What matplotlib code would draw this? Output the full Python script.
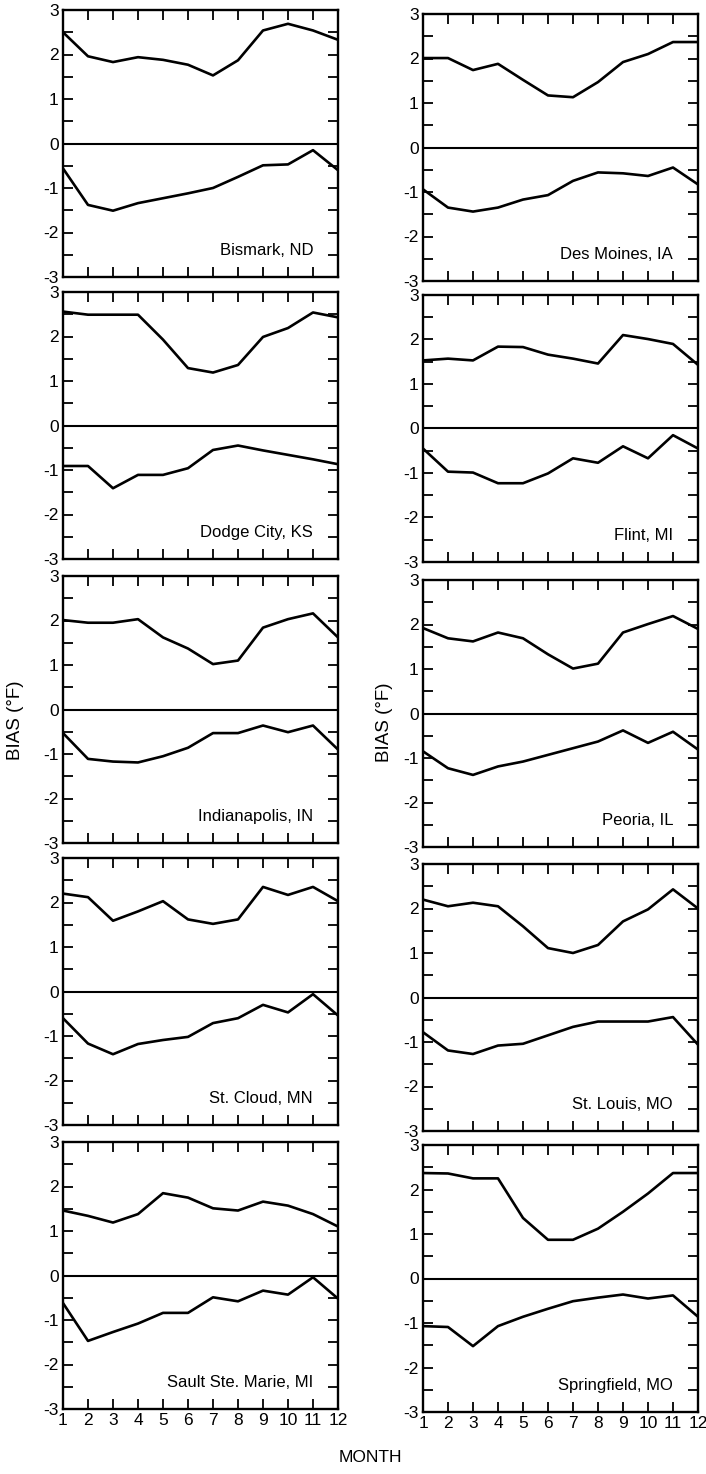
import matplotlib
matplotlib.use("Agg")
from matplotlib import pyplot as plt
from matplotlib.ticker import MultipleLocator

plt.rcParams['font.family'] = ['Liberation Sans', 'DejaVu Sans']
plt.rcParams['axes.unicode_minus'] = False

months = list(range(1, 13))

# station names, left column then right column (top to bottom)
left_names = ["Bismark, ND", "Dodge City, KS", "Indianapolis, IN",
              "St. Cloud, MN", "Sault Ste. Marie, MI"]
right_names = ["Des Moines, IA", "Flint, MI", "Peoria, IL",
               "St. Louis, MO", "Springfield, MO"]

# positive (upper) bias curves, deg F
bismark_pos = [2.50, 1.96, 1.83, 1.94, 1.88, 1.77, 1.53, 1.87, 2.54, 2.69, 2.54, 2.33]
dodge_pos = [2.56, 2.49, 2.49, 2.49, 1.93, 1.29, 1.19, 1.36, 1.99, 2.19, 2.54, 2.43]
indy_pos = [2.01, 1.95, 1.95, 2.03, 1.62, 1.37, 1.02, 1.10, 1.84, 2.03, 2.16, 1.62]
stcloud_pos = [2.20, 2.12, 1.59, 1.80, 2.03, 1.62, 1.52, 1.62, 2.35, 2.17, 2.35, 2.03]
sault_pos = [1.46, 1.34, 1.19, 1.38, 1.85, 1.75, 1.51, 1.46, 1.66, 1.57, 1.38, 1.10]
desmoines_pos = [2.01, 2.01, 1.74, 1.88, 1.52, 1.17, 1.13, 1.47, 1.92, 2.10, 2.37, 2.37]
flint_pos = [1.53, 1.57, 1.53, 1.84, 1.83, 1.66, 1.57, 1.46, 2.10, 2.01, 1.90, 1.43]
peoria_pos = [1.92, 1.69, 1.62, 1.82, 1.69, 1.33, 1.01, 1.12, 1.82, 2.01, 2.19, 1.90]
stlouis_pos = [2.20, 2.05, 2.13, 2.05, 1.60, 1.11, 1.00, 1.18, 1.71, 1.98, 2.43, 2.00]
springfield_pos = [2.37, 2.36, 2.25, 2.25, 1.36, 0.87, 0.87, 1.12, 1.50, 1.91, 2.37, 2.37]

# negative (lower) bias curves, deg F
bismark_neg = [-0.56, -1.38, -1.51, -1.34, -1.23, -1.12, -1.00, -0.75, -0.49, -0.47, -0.15, -0.60]
dodge_neg = [-0.91, -0.91, -1.41, -1.11, -1.11, -0.96, -0.55, -0.45, -0.56, -0.66, -0.76, -0.87]
indy_neg = [-0.53, -1.11, -1.17, -1.19, -1.05, -0.86, -0.53, -0.53, -0.36, -0.51, -0.36, -0.90]
stcloud_neg = [-0.60, -1.17, -1.41, -1.18, -1.09, -1.02, -0.71, -0.60, -0.30, -0.47, -0.06, -0.54]
sault_neg = [-0.62, -1.47, -1.27, -1.08, -0.84, -0.84, -0.49, -0.58, -0.34, -0.43, -0.04, -0.52]
desmoines_neg = [-0.94, -1.35, -1.44, -1.35, -1.17, -1.07, -0.75, -0.56, -0.58, -0.64, -0.45, -0.83]
flint_neg = [-0.45, -0.97, -0.99, -1.23, -1.23, -1.01, -0.67, -0.77, -0.40, -0.67, -0.15, -0.45]
peoria_neg = [-0.85, -1.23, -1.38, -1.19, -1.08, -0.93, -0.78, -0.63, -0.38, -0.66, -0.41, -0.81]
stlouis_neg = [-0.78, -1.19, -1.27, -1.08, -1.04, -0.85, -0.66, -0.54, -0.54, -0.54, -0.44, -1.06]
springfield_neg = [-1.07, -1.09, -1.52, -1.07, -0.86, -0.68, -0.51, -0.43, -0.36, -0.45, -0.38, -0.86]

left_pos = [bismark_pos, dodge_pos, indy_pos, stcloud_pos, sault_pos]
left_neg = [bismark_neg, dodge_neg, indy_neg, stcloud_neg, sault_neg]
right_pos = [desmoines_pos, flint_pos, peoria_pos, stlouis_pos, springfield_pos]
right_neg = [desmoines_neg, flint_neg, peoria_neg, stlouis_neg, springfield_neg]

W, H = 706, 1474
fig = plt.figure(figsize=(W / 100, H / 100), dpi=100)


def px_axes(x, top, w, h):
    return fig.add_axes([x / W, 1 - (top + h) / H, w / W, h / H])


def panel(ax, pos, neg, name, bottom_row):
    ax.plot(months, pos, color="black", lw=1.9)
    ax.plot(months, neg, color="black", lw=1.9)
    ax.axhline(0, color="black", lw=1.5)
    ax.set_xlim(1, 12)
    ax.set_ylim(-3, 3)
    ax.set_xticks(months)
    ax.yaxis.set_major_locator(MultipleLocator(1))
    ax.yaxis.set_minor_locator(MultipleLocator(0.5))
    ax.tick_params(which="both", direction="in", top=True, right=True,
                   length=7, width=1.3, labelsize=12.5, pad=3)
    if not bottom_row:
        ax.set_xticklabels([])
    for s in ax.spines.values():
        s.set_linewidth(1.7)
    ax.text(11, -2.4, name, ha="right", va="center", fontsize=12)


left_tops = [10, 292, 576, 858, 1142]
right_tops = [14, 295, 580, 864, 1145]

for i in range(5):
    ax = px_axes(63, left_tops[i], 275, 267)
    panel(ax, left_pos[i], left_neg[i], left_names[i], i == 4)
    ax = px_axes(423, right_tops[i], 275, 267)
    panel(ax, right_pos[i], right_neg[i], right_names[i], i == 4)

fig.text(15 / W, 1 - 720 / H, "BIAS (°F)", rotation=90, ha="center", va="center", fontsize=13.5)
fig.text(384 / W, 1 - 722 / H, "BIAS (°F)", rotation=90, ha="center", va="center", fontsize=13.5)
fig.text(370 / W, 1 - 1457 / H, "MONTH", ha="center", va="center", fontsize=12.5)

fig.savefig("out.png", dpi=100)
